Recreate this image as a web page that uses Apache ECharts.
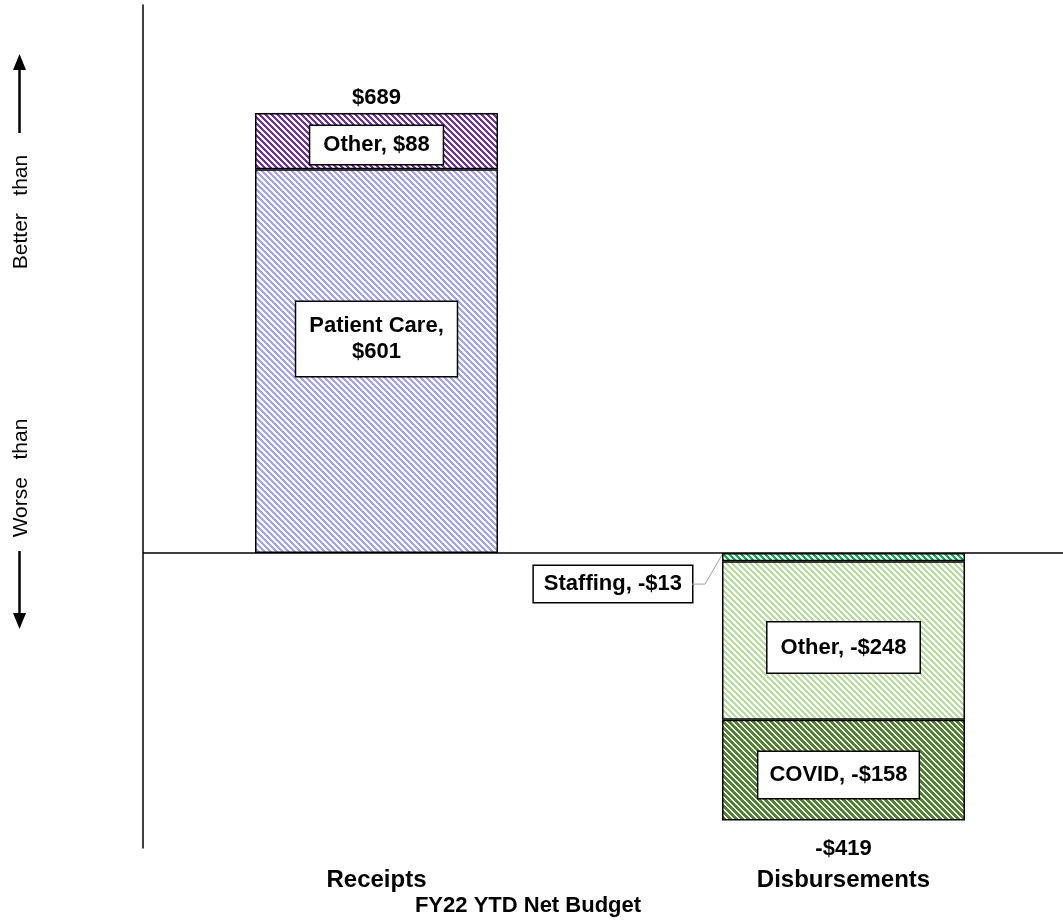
<!DOCTYPE html>
<html>
<head>
<meta charset="utf-8">
<script src="https://cdn.jsdelivr.net/npm/echarts@6/dist/echarts.min.js"></script>
<style>html,body{margin:0;padding:0;background:#fff;}#c{width:1063px;height:922px;}</style>
</head>
<body>
<div id="c"></div>
<script>
const categories = ['Receipts', 'Disbursements'];
const patientCare = [601, '-'];
const receiptsOther = [88, '-'];
const staffing = ['-', -13];
const disbOther = ['-', -248];
const covid = ['-', -158];
const totals = [689, -419];
const axisTitle = 'FY22 YTD Net Budget';
const sideLabels = ['Better   than', 'Worse   than'];

const FONT = '"Liberation Sans", Arial, sans-serif';
const BAR_W = 243;
const money = v => (v < 0 ? '-$' : '$') + Math.abs(v);

function pattern(fg, bg, period, w) {
  const c = document.createElement('canvas');
  c.width = period; c.height = period;
  const ctx = c.getContext('2d');
  ctx.fillStyle = bg; ctx.fillRect(0, 0, period, period);
  ctx.fillStyle = fg;
  for (let y = 0; y < period; y++)
    for (let x = 0; x < period; x++)
      if ((((x - y) % period) + period) % period < w) ctx.fillRect(x, y, 1, 1);
  return { image: c, repeat: 'repeat' };
}

const boxLabel = {
  show: true,
  position: 'inside',
  color: '#000',
  fontFamily: FONT,
  fontWeight: 'bold',
  fontSize: 22,
  lineHeight: 26,
  backgroundColor: '#fff',
  borderColor: '#000',
  borderWidth: 1.5,
  padding: [6, 13],
  textBorderWidth: 0
};

function seg(name, data, fill, sep, labelExtra, extra) {
  return Object.assign({
    name: name,
    type: 'bar',
    stack: 'total',
    barWidth: BAR_W,
    data: data,
    itemStyle: { color: fill, borderColor: '#000', borderWidth: 1.5 },
    label: Object.assign({}, boxLabel, {
      formatter: p => name + ',' + sep + money(p.value)
    }, labelExtra || {}),
    emphasis: { disabled: true },
    animation: false
  }, extra || {});
}

const totalLabel = {
  show: true,
  formatter: p => money(p.value),
  color: '#000', fontFamily: FONT, fontWeight: 'bold', fontSize: 22
};

const sideGraphics = [
  { id: 't1', type: 'text', x: 21, y: 212, rotation: Math.PI / 2,
    style: { text: sideLabels[0], fill: '#000', font: '21px ' + FONT, align: 'center', verticalAlign: 'middle' } },
  { id: 't2', type: 'text', x: 21, y: 478, rotation: Math.PI / 2,
    style: { text: sideLabels[1], fill: '#000', font: '21px ' + FONT, align: 'center', verticalAlign: 'middle' } },
  { id: 'a1', type: 'line', shape: { x1: 19.5, y1: 133, x2: 19.5, y2: 66 }, style: { stroke: '#000', lineWidth: 2.5 } },
  { id: 'h1', type: 'polygon', shape: { points: [[19.5, 54], [13, 70], [26, 70]] }, style: { fill: '#000' } },
  { id: 'a2', type: 'line', shape: { x1: 19.5, y1: 551, x2: 19.5, y2: 617 }, style: { stroke: '#000', lineWidth: 2.5 } },
  { id: 'h2', type: 'polygon', shape: { points: [[19.5, 629], [13, 613], [26, 613]] }, style: { fill: '#000' } }
];

const chart = echarts.init(document.getElementById('c'), null, { renderer: 'canvas' });
chart.setOption({
  animation: false,
  backgroundColor: '#fff',
  grid: { left: 143, right: -14, top: 5, bottom: 74, containLabel: false, outerBoundsMode: 'none' },
  title: {
    text: axisTitle,
    left: 528, textAlign: 'center', top: 895, padding: 0,
    textStyle: { fontFamily: FONT, fontWeight: 'bold', fontSize: 22, color: '#000' }
  },
  xAxis: {
    type: 'category',
    data: categories,
    axisLine: { show: false, onZero: false },
    axisTick: { show: false },
    axisLabel: { margin: 20, color: '#000', fontFamily: FONT, fontWeight: 'bold', fontSize: 24 },
    splitLine: { show: false }
  },
  yAxis: {
    type: 'value',
    min: -462, max: 858,
    axisLine: { show: true, lineStyle: { color: '#000', width: 1.5 } },
    axisTick: { show: false },
    axisLabel: { show: false },
    splitLine: { show: false }
  },
  series: [
    seg('Patient Care', patientCare, pattern('#a4a4f1', '#ffffff', 6, 3), '\n',
      { offset: [0, -22], padding: [11, 13] },
      { markLine: { silent: true, symbol: 'none', label: { show: false },
        lineStyle: { color: '#000', width: 1.5, type: 'solid' }, data: [{ yAxis: 0 }] } }),
    seg('Other', receiptsOther, pattern('#7030a0', '#ffffff', 6, 3), ' ', { offset: [0, 4] }),
    seg('Staffing', staffing, pattern('#00b050', '#ffffff', 6, 3), ' ',
      { position: 'left', distance: 30, offset: [0, 27], padding: [5, 10] }),
    seg('Other', disbOther, pattern('#b8dba2', '#ffffff', 6, 3), ' ', { offset: [0, 7], padding: [12, 13] }),
    seg('COVID', covid, pattern('#548235', '#ffffff', 6, 4), ' ', { offset: [-5, 5], padding: [10, 11] }),
    {
      name: 'Total',
      type: 'scatter',
      symbolSize: 1,
      itemStyle: { color: 'rgba(0,0,0,0)', opacity: 1 },
      emphasis: { disabled: true },
      data: totals.map(v => ({
        value: v,
        label: Object.assign({}, totalLabel, { position: v >= 0 ? 'top' : 'bottom', distance: v >= 0 ? 3 : 17 })
      })),
      label: totalLabel,
      z: 5
    }
  ],
  graphic: sideGraphics
});

// Leader line for the Staffing label, computed from the chart's own scales
(function () {
  const idx = staffing.findIndex(v => v !== '-');
  const zero = chart.convertToPixel({ xAxisIndex: 0, yAxisIndex: 0 }, [idx, 0]);
  const mid = chart.convertToPixel({ xAxisIndex: 0, yAxisIndex: 0 }, [idx, staffing[idx] / 2]);
  const barLeft = zero[0] - BAR_W / 2;
  const labelRight = barLeft - 30;
  const ly = mid[1] + 27;
  chart.setOption({
    graphic: sideGraphics.concat([{
      id: 'leader', type: 'polyline', silent: true, z: 10,
      shape: { points: [[labelRight, ly], [labelRight + 13, ly], [barLeft, zero[1] + 2]] },
      style: { stroke: '#a0a0a0', lineWidth: 1, fill: null }
    }])
  });
})();
</script>
</body>
</html>
